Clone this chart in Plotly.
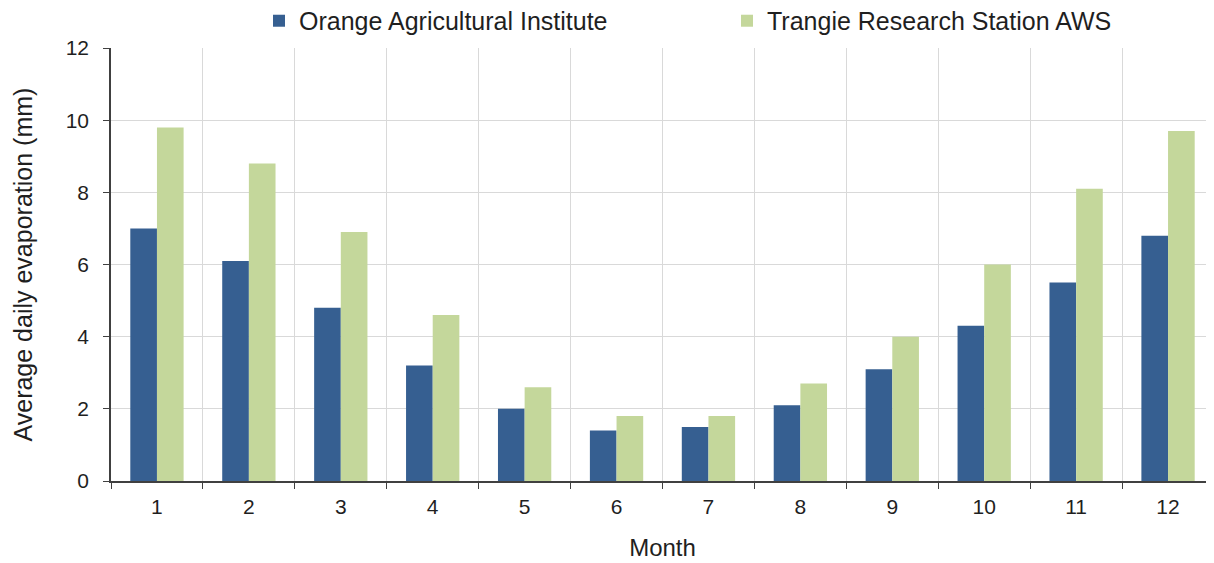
import plotly.graph_objects as go

# 月份与两站点的日均蒸发量 (mm)
months = ['1', '2', '3', '4', '5', '6', '7', '8', '9', '10', '11', '12']
orange_evap = [7.0, 6.1, 4.8, 3.2, 2.0, 1.4, 1.5, 2.1, 3.1, 4.3, 5.5, 6.8]
trangie_evap = [9.8, 8.8, 6.9, 4.6, 2.6, 1.8, 1.8, 2.7, 4.0, 6.0, 8.1, 9.7]

BLUE = '#365F91'
GREEN = '#C4D79B'
TEXT = '#1F1F1F'
GRID = '#D9D9D9'
AXIS = '#404040'
FONT = 'Liberation Sans, Arial, sans-serif'

fig = go.Figure()

fig.add_trace(go.Bar(
    x=months,
    y=orange_evap,
    name='Orange Agricultural Institute',
    marker=dict(color=BLUE, line=dict(width=0)),
))

fig.add_trace(go.Bar(
    x=months,
    y=trangie_evap,
    name='Trangie Research Station AWS',
    marker=dict(color=GREEN, line=dict(width=0)),
))

# 纵轴标题用注释放置，位置更可控
fig.add_annotation(
    text='Average daily evaporation (mm)',
    xref='paper', yref='paper',
    x=-89 / 1103, y=0.5,
    xanchor='center', yanchor='middle',
    textangle=-90,
    showarrow=False,
    font=dict(size=25, color=TEXT),
)

fig.update_layout(
    width=1214,
    height=563,
    margin=dict(l=103, r=8, t=40, b=90, autoexpand=False),
    paper_bgcolor='white',
    plot_bgcolor='white',
    font=dict(family=FONT, color=TEXT, size=21),
    barmode='group',
    bargap=0.42,
    bargroupgap=0,
    legend=dict(
        orientation='h',
        x=0.1342,
        xanchor='left',
        y=1.0624,
        yanchor='middle',
        font=dict(size=25, color=TEXT),
        entrywidth=423,
        entrywidthmode='pixels',
        itemwidth=30,
        bgcolor='rgba(0,0,0,0)',
    ),
    xaxis=dict(
        type='category',
        tickson='boundaries',
        showgrid=True,
        gridcolor=GRID,
        gridwidth=1,
        showline=True,
        linecolor=AXIS,
        linewidth=1.5,
        ticks='outside',
        ticklen=6,
        tickcolor=AXIS,
        tickfont=dict(size=21),
        ticklabelstandoff=6,
        automargin=False,
        title=dict(text='Month', font=dict(size=24), standoff=22),
    ),
    yaxis=dict(
        range=[0, 12],
        dtick=2,
        showgrid=True,
        gridcolor=GRID,
        gridwidth=1,
        zeroline=False,
        showline=True,
        linecolor=AXIS,
        linewidth=1.5,
        ticks='outside',
        ticklen=6,
        tickcolor=AXIS,
        tickfont=dict(size=21),
        ticklabelstandoff=10,
        automargin=False,
    ),
)

fig.write_html('out.html')
